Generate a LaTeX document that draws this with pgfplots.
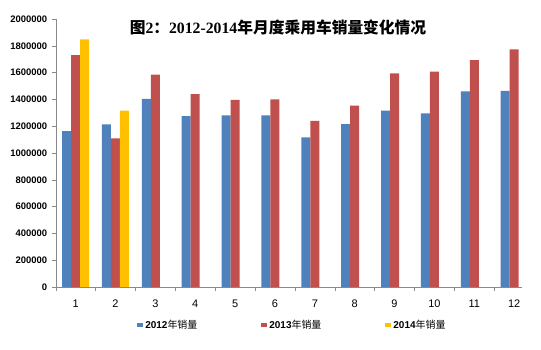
\documentclass[border=0pt]{standalone}
\usepackage{pgfplots}
\pgfplotsset{compat=1.18}
\usepackage{fontspec}
\setmainfont{Liberation Sans}
\newfontfamily\cjk{Noto Sans CJK SC}
\newfontfamily\serif{Liberation Serif}
\definecolor{cblue}{HTML}{4F81BD}
\definecolor{cred}{HTML}{C0504D}
\definecolor{cyellow}{HTML}{FFC000}
\definecolor{axgray}{HTML}{898989}
\begin{document}
\begin{tikzpicture}
\useasboundingbox (0,0) rectangle (541bp,350bp);
\begin{axis}[
  at={(55.7bp,63bp)}, anchor=south west,
  scale only axis, width=466bp, height=268bp,
  ybar=0pt, bar width=9bp,
  xmin=0.5, xmax=12.19,
  ymin=0, ymax=2000000,
  axis x line*=bottom, axis y line*=left,
  axis line style={axgray,-},
  every tick/.style={axgray, thin},
  tick align=outside,
  xtick={1,...,12},
  major x tick style={draw=none},
  minor xtick={0.5,1.5,...,11.5},
  minor tick length=4bp,
  major tick length=4bp,
  ytick={0,200000,...,2000000},
  yticklabels={0,200000,400000,600000,800000,1000000,1200000,1400000,1600000,1800000,2000000},
  scaled y ticks=false,
  /pgf/number format/assume math mode=true,
  xticklabel style={font=\fontsize{11}{12}\selectfont, yshift=-5bp},
  yticklabel style={font=\bfseries\fontsize{9.5}{10}\selectfont, xshift=-1bp},
  title={{\cjk\bfseries 图}{\serif\bfseries 2}{\cjk\bfseries ：}{\serif\bfseries 2012-2014}{\cjk\bfseries 年月度乘用车销量变化情况}},
  title style={at={(axis description cs:0.477,0.946)}, anchor=center, font=\fontsize{15.8}{18}\selectfont},
  legend style={draw=none, fill=none, at={(0.508,-0.1418)}, anchor=center,
    legend columns=3, font=\fontsize{10}{12}\selectfont,
    /tikz/every even column/.append style={column sep=62bp},
    legend cell align=left, inner sep=0pt},
  legend image code/.code={\fill[#1] (0bp,-2.2bp) rectangle (6bp,2.3bp);},
]
\addplot[fill=cblue, draw=none] coordinates {(1,1164000) (2,1214000) (3,1403000) (4,1276000) (5,1281000) (6,1281000) (7,1117000) (8,1216000) (9,1316000) (10,1296000) (11,1460000) (12,1463000)};
\addplot[fill=cred, draw=none] coordinates {(1,1731000) (2,1110000) (3,1584000) (4,1440000) (5,1396000) (6,1401000) (7,1239000) (8,1353000) (9,1595000) (10,1607000) (11,1694000) (12,1774000)};
\addplot[fill=cyellow, draw=none] coordinates {(1,1848000) (2,1316000)};
\legend{{\bfseries 2012}{\cjk 年销量},{\bfseries 2013}{\cjk 年销量},{\bfseries 2014}{\cjk 年销量}}
\end{axis}
\end{tikzpicture}
\end{document}
